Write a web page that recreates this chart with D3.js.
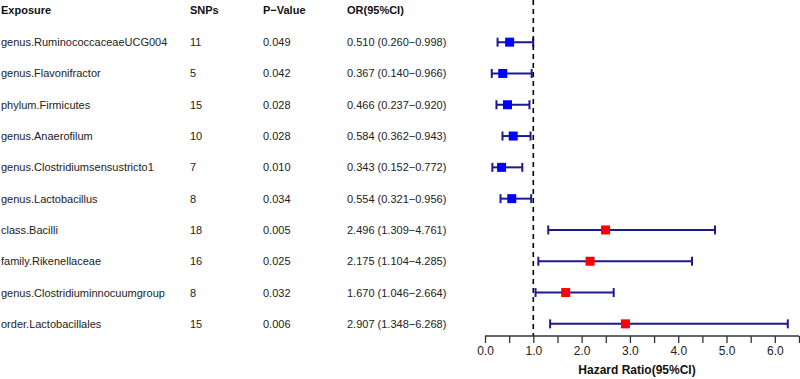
<!DOCTYPE html>
<html>
<head>
<meta charset="utf-8">
<script src="https://cdn.jsdelivr.net/npm/d3@7"></script>
<style>
  html, body { margin: 0; padding: 0; background: #fff; }
  svg { display: block; font-family: "Liberation Sans", Arial, sans-serif; }
</style>
</head>
<body>
<div id="chart"></div>
<script>
const exposures = ['genus.RuminococcaceaeUCG004', 'genus.Flavonifractor', 'phylum.Firmicutes',
  'genus.Anaerofilum', 'genus.Clostridiumsensustricto1', 'genus.Lactobacillus', 'class.Bacilli',
  'family.Rikenellaceae', 'genus.Clostridiuminnocuumgroup', 'order.Lactobacillales'];
const snps = [11, 5, 15, 10, 7, 8, 18, 16, 8, 15];
const pValues = ['0.049', '0.042', '0.028', '0.028', '0.010', '0.034', '0.005', '0.025', '0.032', '0.006'];
const orValues = [0.510, 0.367, 0.466, 0.584, 0.343, 0.554, 2.496, 2.175, 1.670, 2.907];
const lowerCI = [0.260, 0.140, 0.237, 0.362, 0.152, 0.321, 1.309, 1.104, 1.046, 1.348];
const upperCI = [0.998, 0.966, 0.920, 0.943, 0.772, 0.956, 4.761, 4.285, 2.664, 6.268];
const headers = ['Exposure', 'SNPs', 'P\u2212Value', 'OR(95%CI)'];
const axisTicks = d3.range(0, 6.51, 0.5);

const width = 800, height = 379;
const f3 = d3.format('.3f');

const rows = exposures.map((e, i) => ({
  exposure: e, snps: snps[i], p: pValues[i],
  or: orValues[i], lo: lowerCI[i], hi: upperCI[i]
}));

const svg = d3.select('#chart').append('svg')
  .attr('width', width)
  .attr('height', height);

const x = d3.scaleLinear().domain([0, 6.5]).range([485, 799]);
const y = d3.scaleBand().domain(d3.range(rows.length)).range([26.5, 339.5]);
const rowY = i => y(i) + y.bandwidth() / 2;
const axisY = 336;

// table columns
const colX = [1, 190, 263, 347];

svg.selectAll('text.header')
  .data(headers)
  .join('text')
  .attr('class', 'header')
  .attr('x', (d, i) => colX[i])
  .attr('y', 14)
  .attr('font-size', 11)
  .attr('font-weight', 700)
  .attr('fill', '#111')
  .text(d => d);

const rowG = svg.selectAll('g.row')
  .data(rows)
  .join('g')
  .attr('class', 'row')
  .attr('transform', (d, i) => `translate(0,${rowY(i)})`);

const cells = [
  d => d.exposure,
  d => d.snps,
  d => d.p,
  d => `${f3(d.or)} (${f3(d.lo)}\u2212${f3(d.hi)})`
];
cells.forEach((fn, c) => {
  rowG.append('text')
    .attr('x', colX[c])
    .attr('dy', '0.36em')
    .attr('font-size', 11)
    .attr('fill', '#222')
    .text(fn);
});

// reference line at 1
svg.append('line')
  .attr('x1', x(1)).attr('x2', x(1))
  .attr('y1', 0).attr('y2', axisY)
  .attr('stroke', '#000')
  .attr('stroke-width', 1.6)
  .attr('stroke-dasharray', '5,4');

// CI lines
const navy = '#1b1b8f';
rowG.append('line')
  .attr('x1', d => x(d.lo)).attr('x2', d => x(d.hi))
  .attr('stroke', navy).attr('stroke-width', 2);
rowG.append('line')
  .attr('x1', d => x(d.lo)).attr('x2', d => x(d.lo))
  .attr('y1', -4.5).attr('y2', 4.5)
  .attr('stroke', navy).attr('stroke-width', 2);
rowG.append('line')
  .attr('x1', d => x(d.hi)).attr('x2', d => x(d.hi))
  .attr('y1', -4.5).attr('y2', 4.5)
  .attr('stroke', navy).attr('stroke-width', 2);

// point estimates
const sq = 9;
rowG.append('rect')
  .attr('x', d => x(d.or) - sq / 2)
  .attr('y', -sq / 2)
  .attr('width', sq).attr('height', sq)
  .attr('fill', d => d.or < 1 ? '#0000ff' : '#ff0000');

// axis
const axis = svg.append('g')
  .attr('transform', `translate(0,${axisY})`)
  .call(d3.axisBottom(x)
    .tickValues(axisTicks)
    .tickSize(7)
    .tickPadding(3)
    .tickFormat(d => Number.isInteger(d) ? d3.format('.1f')(d) : ''));
axis.select('.domain').attr('stroke', '#333').attr('stroke-width', 1.3).attr('d', `M${x(0)},0H${x(6.5)}`);
axis.selectAll('.tick line').attr('stroke', '#333').attr('stroke-width', 1.3);
axis.selectAll('.tick text')
  .attr('font-size', 12)
  .attr('font-family', '"Liberation Sans", Arial, sans-serif')
  .attr('fill', '#222');

svg.append('text')
  .attr('x', 637)
  .attr('y', 374)
  .attr('text-anchor', 'middle')
  .attr('font-size', 12)
  .attr('font-weight', 700)
  .attr('fill', '#111')
  .text('Hazard Ratio(95%CI)');
</script>
</body>
</html>
